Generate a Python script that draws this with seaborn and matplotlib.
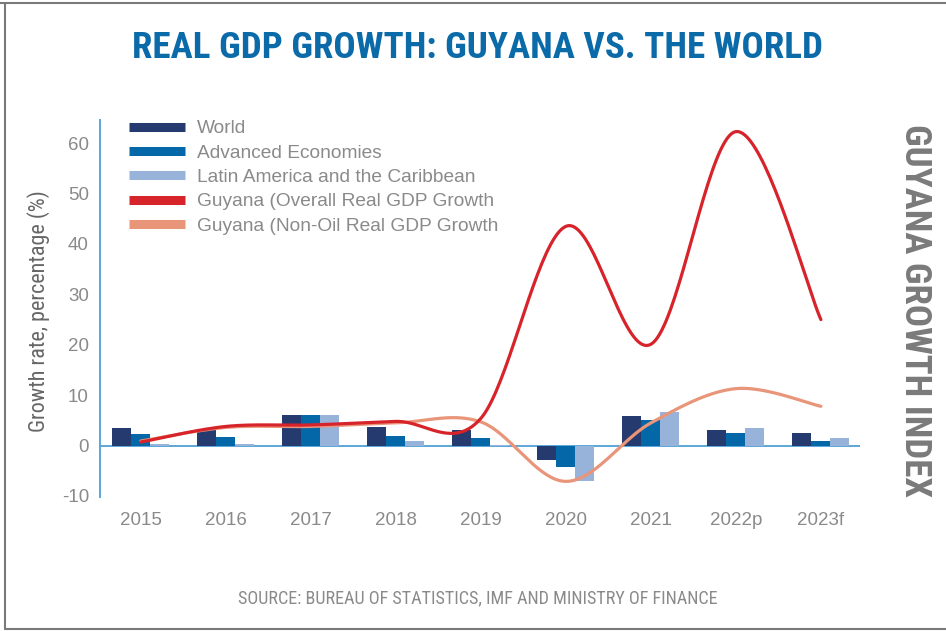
import numpy as np
import pandas as pd
import matplotlib
matplotlib.use("Agg")
import matplotlib.pyplot as plt
from matplotlib.lines import Line2D
from matplotlib import font_manager as fm
import seaborn as sns

# ---------------- data ----------------
years = ["2015", "2016", "2017", "2018", "2019", "2020", "2021", "2022p", "2023f"]
world = [3.4, 3.3, 6.0, 3.7, 3.0, -2.8, 5.8, 3.0, 2.4]
advanced = [2.3, 1.7, 6.0, 2.0, 1.6, -4.2, 5.0, 2.4, 1.0]
latam = [0.3, 0.3, 6.0, 1.0, 0.1, -7.0, 6.7, 3.4, 1.6]
guyana_overall = [0.7, 3.8, 4.1, 4.8, 5.4, 43.5, 20.1, 62.3, 25.0]
guyana_nonoil = [0.9, 3.6, 3.8, 4.5, 4.7, -7.1, 4.5, 11.3, 7.8]

bar_series = ["World", "Advanced Economies", "Latin America and the Caribbean"]
line_series = ["Guyana (Overall Real GDP Growth", "Guyana (Non-Oil Real GDP Growth"]
yticks = [-10, 0, 10, 20, 30, 40, 50, 60]

title = "REAL GDP GROWTH: GUYANA VS. THE WORLD"
side_text = "GUYANA GROWTH INDEX"
ylabel = "Growth rate, percentage (%)"
source = "SOURCE: BUREAU OF STATISTICS, IMF AND MINISTRY OF FINANCE"

bar_colors = ["#253A6E", "#0467A8", "#98B3D9"]
red = "#D7242B"
salmon = "#E9957A"
axis_blue = "#5BA6D6"
grey_txt = "#8A8A8A"

# ---------------- fonts ----------------
sns.set_style("white")
names = {f.name for f in fm.fontManager.ttflist}
body = "Liberation Sans" if "Liberation Sans" in names else "DejaVu Sans"
plt.rcParams["font.family"] = [body, "DejaVu Sans"]


def find_cond(bold):
    prefs = ["LiberationSansNarrow", "RobotoCondensed", "NotoSans-Condensed",
             "OpenSans_Condensed", "OpenSans-Condensed", "DejaVuSansCondensed"]
    files = [f.fname for f in fm.fontManager.ttflist]
    for p in prefs:
        for fn in files:
            base = fn.split("/")[-1]
            if p.lower() in base.lower().replace(" ", ""):
                low = base.lower()
                if "italic" in low or "oblique" in low:
                    continue
                isbold = "bold" in low and "semibold" not in low and "extrabold" not in low
                if bold == isbold:
                    if not bold and any(k in low for k in ["light", "thin", "black", "medium", "semi", "extra"]):
                        continue
                    return fm.FontProperties(fname=fn)
    return None


cond_bold = find_cond(True)
cond_reg = find_cond(False)


def fp(size, bold=False):
    base = cond_bold if bold else cond_reg
    if base is None:
        p = fm.FontProperties(family=["DejaVu Sans"], weight="bold" if bold else "normal")
    else:
        p = base.copy()
    p.set_size(size)
    return p


# ---------------- frame ----------------
fig = plt.figure(figsize=(9.46, 6.31), dpi=100)
W, H = 946, 631
ax = fig.add_axes([100 / W, 1 - 497 / H, 760 / W, 377 / H])

df = pd.DataFrame({
    "year": np.repeat(years, 3),
    "series": bar_series * len(years),
    "value": np.ravel(np.column_stack([world, advanced, latam])),
})
sns.barplot(data=df, x="year", y="value", hue="series", order=years,
            hue_order=bar_series, palette=bar_colors, width=0.67,
            saturation=1, linewidth=0, legend=False, ax=ax, zorder=2)


def smooth(xs, ys, n=40):
    xs = np.asarray(xs, float)
    ys = np.asarray(ys, float)
    px = np.concatenate([[xs[0]], xs, [xs[-1]]])
    py = np.concatenate([[ys[0]], ys, [ys[-1]]])
    out_x, out_y = [], []
    t = np.linspace(0, 1, n)
    for i in range(1, len(px) - 2):
        p0x, p3x = px[i], px[i + 1]
        p0y, p3y = py[i], py[i + 1]
        c1x = p0x + (px[i + 1] - px[i - 1]) / 6
        c1y = p0y + (py[i + 1] - py[i - 1]) / 6
        c2x = p3x - (px[i + 2] - px[i]) / 6
        c2y = p3y - (py[i + 2] - py[i]) / 6
        bx = (1 - t) ** 3 * p0x + 3 * (1 - t) ** 2 * t * c1x + 3 * (1 - t) * t ** 2 * c2x + t ** 3 * p3x
        by = (1 - t) ** 3 * p0y + 3 * (1 - t) ** 2 * t * c1y + 3 * (1 - t) * t ** 2 * c2y + t ** 3 * p3y
        out_x.append(bx if i == 1 else bx[1:])
        out_y.append(by if i == 1 else by[1:])
    return np.concatenate(out_x), np.concatenate(out_y)


xpos = np.arange(len(years))
for vals, col in [(guyana_nonoil, salmon), (guyana_overall, red)]:
    sx, sy = smooth(xpos, vals)
    sns.lineplot(x=sx, y=sy, sort=False, estimator=None, color=col,
                 linewidth=2.3, ax=ax, zorder=3)

ax.set_xlim(-0.48, 8.46)
ax.set_ylim(-10.2, 64.6)
ax.set_yticks(yticks)
ax.set_yticklabels([str(v) for v in yticks])
ax.axhline(0, color=axis_blue, lw=1.4, zorder=1)

for s in ["top", "right", "bottom"]:
    ax.spines[s].set_visible(False)
ax.spines["left"].set_color(axis_blue)
ax.spines["left"].set_linewidth(1.4)
ax.tick_params(axis="both", length=0, colors=grey_txt, labelsize=13.5)
ax.tick_params(axis="y", pad=8)
ax.tick_params(axis="x", pad=11)
ax.set_xlabel("")
ax.set_ylabel("")

handles = [Line2D([0], [0], color=c, lw=6.5, solid_capstyle="butt") for c in bar_colors + [red, salmon]]
leg = ax.legend(handles, bar_series + line_series, loc="upper left",
                bbox_to_anchor=(129 / W, 1 - 120 / H), bbox_transform=fig.transFigure,
                frameon=False, fontsize=13.8, handlelength=2.9, handletextpad=0.65,
                labelspacing=0.36, borderpad=0, borderaxespad=0)
for t in leg.get_texts():
    t.set_color(grey_txt)

t_title = fig.text(478 / W, 1 - 48 / H, title, ha="center", va="center", color="#0B6AA8",
                   fontproperties=fp(25, True))
t_side = fig.text(915 / W, 1 - 310 / H, side_text, ha="center", va="center", rotation=-90,
                  color="#7A7A7A", fontproperties=fp(23, True))
t_src = fig.text(478 / W, 1 - 598 / H, source, ha="center", va="center", color=grey_txt,
                 fontproperties=fp(11.5))
t_yl = fig.text(39 / W, 1 - 311 / H, ylabel, ha="center", va="center", rotation=90,
                color="#666666", fontproperties=fp(15))

# fit text lengths to the reference extents
fig.canvas.draw()
r = fig.canvas.get_renderer()
for txt, target, vertical in [(t_title, 690, False), (t_side, 374, True),
                              (t_src, 482, False), (t_yl, 243, True)]:
    bb = txt.get_window_extent(r)
    cur = bb.height if vertical else bb.width
    txt.set_fontsize(txt.get_fontsize() * target / cur)

# outer border (top, left, bottom)
for xs_, ys_ in [([0, 1], [1 - 3 / H, 1 - 3 / H]),
                 ([5 / W, 5 / W], [1 - 3 / H, 1 - 629 / H]),
                 ([5 / W, 1], [1 - 629 / H, 1 - 629 / H])]:
    fig.add_artist(Line2D(xs_, ys_, transform=fig.transFigure, color="#7A7A7A", lw=1.5))

fig.savefig("out.png", dpi=100)
